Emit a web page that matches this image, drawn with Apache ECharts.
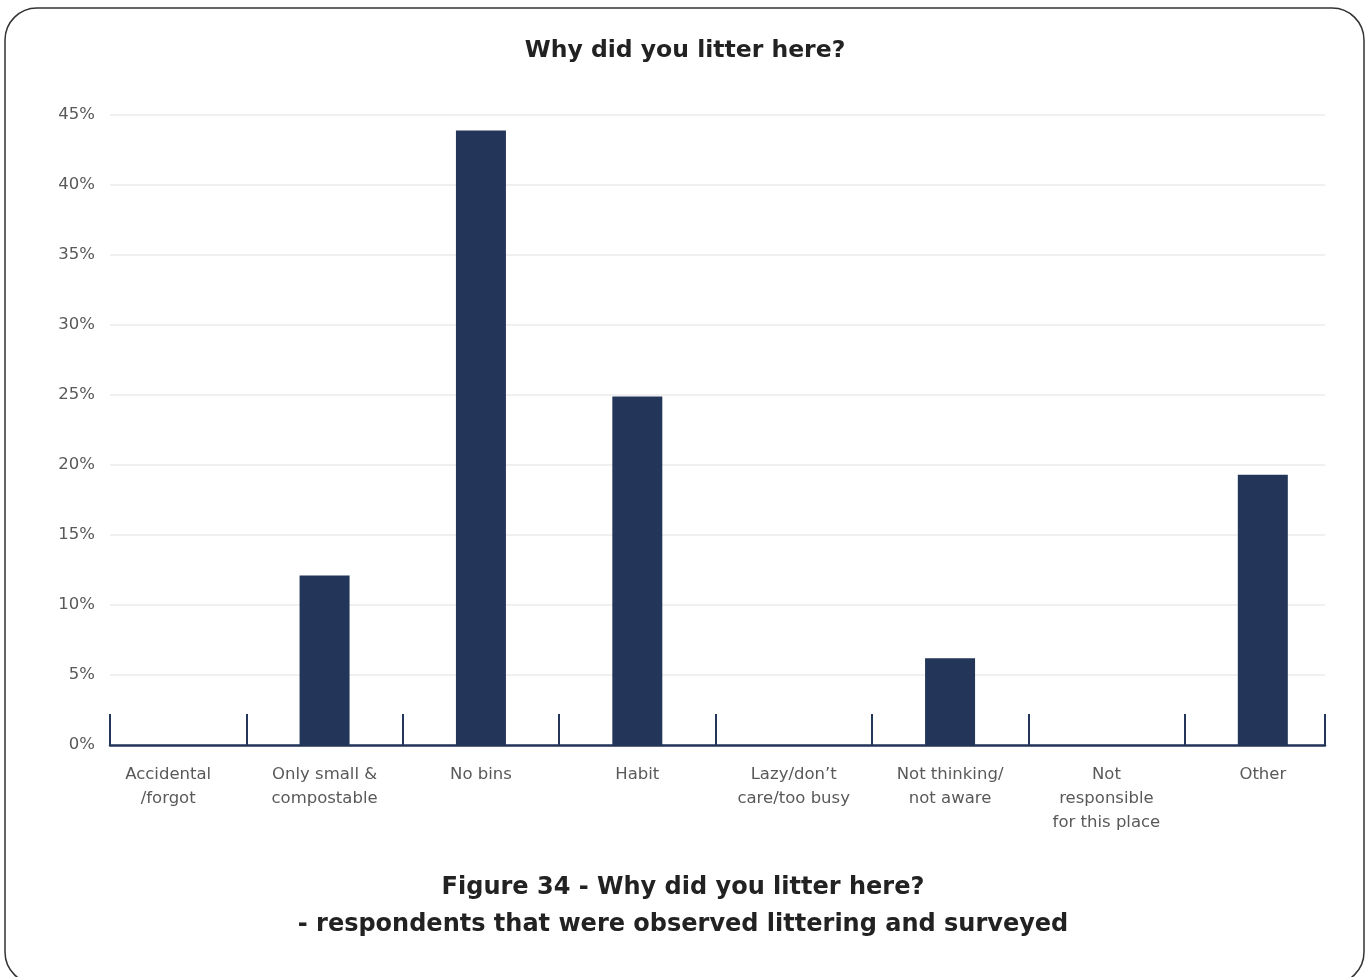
<!DOCTYPE html>
<html>
<head>
<meta charset="utf-8">
<script src="https://cdn.jsdelivr.net/npm/echarts@6/dist/echarts.min.js"></script>
<style>
html,body{margin:0;padding:0;background:#fff;}
#c{width:1370px;height:977px;}
</style>
</head>
<body>
<div id="c"></div>
<script>
const chartTitle = 'Why did you litter here?';
const captionLines = ['Figure 34 - Why did you litter here?', '- respondents that were observed littering and surveyed'];
const categories = ['Accidental\n/forgot', 'Only small &\ncompostable', 'No bins', 'Habit', 'Lazy/don\u2019t\ncare/too busy', 'Not thinking/\nnot aware', 'Not\nresponsible\nfor this place', 'Other'];
const values = [0, 12.1, 43.9, 24.9, 0, 6.2, 0, 19.3];
const yTicks = { min: 0, max: 45, interval: 5 };
const boundaryTicks = [1, 2, 3, 4, 5, 6, 7];

const navy = '#233559';
const font = 'DejaVu Sans';
const chart = echarts.init(document.getElementById('c'), null, { renderer: 'canvas' });
chart.setOption({
  backgroundColor: '#fff',
  animation: false,
  textStyle: { fontFamily: font },
  graphic: [{
    type: 'rect',
    shape: { x: 5, y: 8, width: 1359, height: 976, r: 32 },
    style: { fill: 'none', stroke: '#333', lineWidth: 1.5 },
    z: -10
  }, {
    type: 'text', x: 683, y: 888,
    style: {
      text: captionLines[0], fill: '#222', font: 'bold 24px "DejaVu Sans"',
      textAlign: 'center', textVerticalAlign: 'middle'
    }
  }, {
    type: 'text', x: 683, y: 925,
    style: {
      text: captionLines[1], fill: '#222', font: 'bold 24px "DejaVu Sans"',
      textAlign: 'center', textVerticalAlign: 'middle'
    }
  }],
  title: [{
    text: chartTitle, left: 'center', top: 34,
    textStyle: { fontFamily: font, fontSize: 23.5, fontWeight: 'bold', color: '#222' }
  }],
  grid: [
    { left: 110, right: 45, top: 115, bottom: 232 },
    { left: 90, right: 29, top: 115, bottom: 232 }
  ],
  xAxis: [{
    gridIndex: 0, type: 'value', min: 0, max: 1, interval: 1, position: 'bottom',
    axisLine: { show: true, lineStyle: { color: navy, width: 2.5 } },
    axisTick: { show: true, inside: true, length: 31, lineStyle: { color: navy, width: 2 } },
    axisLabel: { show: false }, splitLine: { show: false }
  }, {
    gridIndex: 1, type: 'category', data: categories, position: 'bottom',
    axisLine: { show: false }, axisTick: { show: false },
    axisLabel: { color: '#595959', fontSize: 16.5, lineHeight: 24, margin: 18, interval: 0, fontFamily: font }
  }, {
    gridIndex: 1, type: 'value', min: 0, max: 8, interval: 1, position: 'bottom',
    axisLine: { show: false },
    axisTick: { show: true, inside: true, length: 31, customValues: boundaryTicks, lineStyle: { color: navy, width: 2 } },
    axisLabel: { show: false }, splitLine: { show: false }
  }],
  yAxis: [{
    gridIndex: 0, type: 'value', min: yTicks.min, max: yTicks.max, interval: yTicks.interval,
    axisLine: { show: false }, axisTick: { show: false },
    axisLabel: { formatter: '{value}%', color: '#595959', fontSize: 16.5, margin: 15, fontFamily: font, padding: [4, 0, 0, 0] },
    splitLine: { show: true, lineStyle: { color: '#ebebeb', width: 1.5 } }
  }, {
    gridIndex: 1, type: 'value', min: yTicks.min, max: yTicks.max, interval: yTicks.interval,
    axisLine: { show: false }, axisTick: { show: false }, axisLabel: { show: false }, splitLine: { show: false }
  }],
  series: [{
    type: 'bar', xAxisIndex: 1, yAxisIndex: 1, data: values, barWidth: 50,
    itemStyle: { color: navy }, z: 3
  }]
});
</script>
</body>
</html>
